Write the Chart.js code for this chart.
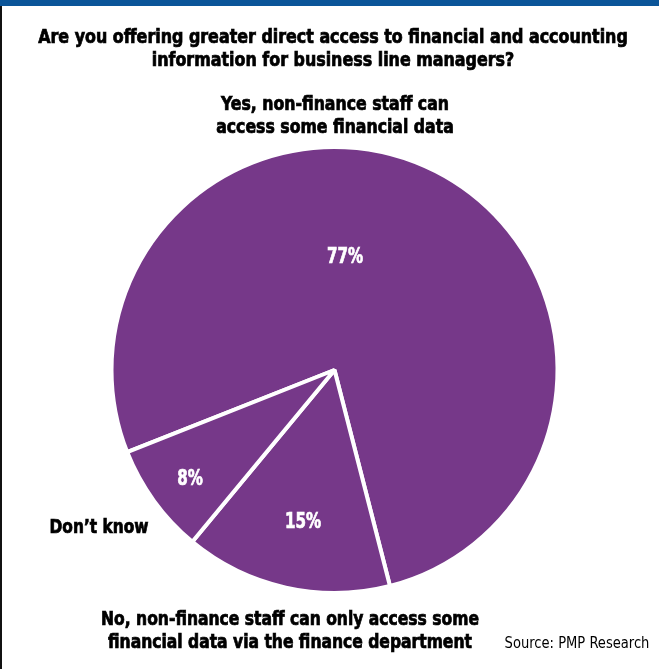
<!DOCTYPE html>
<html>
<head>
<meta charset="utf-8">
<title>Direct access to financial data</title>
<script src="https://cdn.jsdelivr.net/npm/chart.js@4.4.1/dist/chart.umd.min.js"></script>
<style>
  html, body { margin: 0; padding: 0; background: #fff; }
  #wrap { position: relative; width: 659px; height: 669px; }
</style>
</head>
<body>
<div id="wrap"><canvas id="accessChart" width="659" height="669"></canvas></div>
<script>
const categories = [
  "Yes, non-finance staff can access some financial data",
  "No, non-finance staff can only access some financial data via the finance department",
  "Don't know"
];
const shares = [77, 15, 8];
const titleLines = [
  "Are you offering greater direct access to financial and accounting",
  "information for business line managers?"
];
const sourceNote = "Source: PMP Research";

const FONT = '"Liberation Sans Narrow", "Arial Narrow", "DejaVu Sans Condensed", sans-serif';
const purple = "#763889";

// squeeze text horizontally to get a narrow face out of the condensed font;
// heavy adds a thin outline so bold captions read like a black weight
function narrowText(c, text, x, y, sx, heavy) {
  c.save();
  c.translate(x, y);
  c.scale(sx, 1);
  c.fillText(text, 0, 0);
  if (heavy) {
    c.strokeStyle = c.fillStyle;
    c.lineWidth = 0.7;
    c.strokeText(text, 0, 0);
  }
  c.restore();
}

// frame, headline and the outside slice captions
const annotations = {
  id: "annotations",
  beforeDraw(chart) {
    const c = chart.ctx;
    c.save();
    c.fillStyle = "#fff";
    c.fillRect(0, 0, chart.width, chart.height);
    c.fillStyle = "#0b5599";
    c.fillRect(0, 0, chart.width, 6);
    c.fillStyle = "#111";
    c.fillRect(0, 6, 2, chart.height - 6);
    c.restore();
  },
  afterDraw(chart) {
    const c = chart.ctx;
    c.save();
    c.textAlign = "center";
    c.textBaseline = "middle";
    c.fillStyle = "#000";
    c.font = "bold 19px " + FONT;
    narrowText(c, titleLines[0], 333, 38, 0.93, true);
    narrowText(c, titleLines[1], 333, 61, 0.93, true);

    narrowText(c, "Yes, non-finance staff can", 335, 105, 0.92, true);
    narrowText(c, "access some financial data", 335, 128, 0.92, true);
    narrowText(c, "Don\u2019t know", 99, 528, 0.9, true);
    narrowText(c, "No, non-finance staff can only access some", 290, 620, 0.91, true);
    narrowText(c, "financial data via the finance department", 290, 643, 0.91, true);

    c.font = "16px " + FONT;
    narrowText(c, sourceNote, 577, 644, 0.91, false);

    // percentages sit inside their slices
    const arcs = chart.getDatasetMeta(0).data;
    const spots = [[345, 258], [303, 523], [190, 480]];
    c.fillStyle = "#fff";
    c.font = "bold 21px " + FONT;
    arcs.forEach((arc, i) => {
      narrowText(c, shares[i] + "%", spots[i][0], spots[i][1], 0.8, true);
    });
    c.restore();
  }
};

new Chart(document.getElementById("accessChart"), {
  type: "pie",
  data: {
    labels: categories,
    datasets: [{
      data: shares,
      backgroundColor: purple,
      borderColor: "#fff",
      borderWidth: 4,
      hoverOffset: 0
    }]
  },
  options: {
    responsive: false,
    animation: false,
    rotation: 248.4,
    layout: { padding: { left: 109, right: 99, top: 145, bottom: 74 } },
    plugins: {
      legend: { display: false },
      tooltip: { enabled: false }
    }
  },
  plugins: [annotations]
});
</script>
</body>
</html>
